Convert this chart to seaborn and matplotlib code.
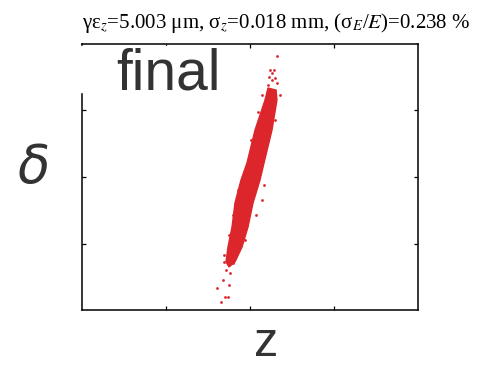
import numpy as np
import pandas as pd
import matplotlib
matplotlib.use('Agg')
import matplotlib.pyplot as plt
import matplotlib.patches as mpatches
import seaborn as sns

# ---------- dados (z, delta em unidades arbitrárias) ----------
# contorno do núcleo denso da distribuição de partículas
core_z     = [0.214, 0.179, 0.060, -0.036, -0.107, -0.179, -0.214, -0.262, -0.286, -0.250,
              -0.179, -0.095, -0.024, 0.036, 0.119, 0.167, 0.262, 0.321, 0.310]
core_delta = [1.338, 1.158, 0.707, 0.211, -0.045, -0.391, -0.752, -1.053, -1.278, -1.353,
              -1.278, -1.053, -0.752, -0.391, -0.045, 0.211, 0.707, 1.158, 1.308]

# partículas isoladas (caudas e bordas difusas)
tail_z     = [0.321, 0.262, 0.226, 0.286, 0.321, 0.214, 0.262, 0.298, 0.238,
              0.143, 0.095, 0.012, -0.071, -0.143, -0.202, -0.250, -0.310,
              0.167, 0.357, 0.298, 0.071, -0.060, 0.143,
              -0.393, -0.345, -0.298, -0.262, -0.321, -0.286, -0.238, -0.202, -0.310, -0.250]
tail_delta = [1.820, 1.564, 1.504, 1.609, 1.414, 1.383, 1.459, 1.489, 1.609,
              1.233, 0.977, 0.556, 0.075, -0.195, -0.571, -0.872, -1.173,
              -0.120, 1.233, 0.857, -0.571, -0.947, -0.346,
              -1.669, -1.880, -1.805, -1.805, -1.549, -1.398, -1.444, -1.293, -1.278, -1.624]

ticks = [-1, 0, 1]
titulo = 'γε$_z$=5.003 μm, σ$_z$=0.018 mm, (σ$_E$/$E$)=0.238 %'

red = '#dc262c'

sns.set_style('white')
plt.rcParams['mathtext.fontset'] = 'stix'
plt.rcParams['font.family'] = ['Liberation Sans', 'DejaVu Sans']

W, H = 487, 366
fig = plt.figure(figsize=(W / 100, H / 100), dpi=100)
ax = fig.add_axes([82 / W, (H - 310) / H, 336 / W, 266 / H])

ax.fill(core_z, core_delta, color=red, lw=1.0, ec=red, zorder=2)
df_tail = pd.DataFrame({'z': tail_z, 'delta': tail_delta})
sns.scatterplot(data=df_tail, x='z', y='delta', ax=ax, color=red, s=4,
                linewidth=0, zorder=3, legend=False)

ax.set_xlim(-2, 2)
ax.set_ylim(-2, 2)
ax.set_xticks(ticks)
ax.set_yticks(ticks)
ax.set_xticklabels([])
ax.set_yticklabels([])
ax.set_xlabel('')
ax.set_ylabel('')
ax.tick_params(direction='in', length=3, width=0.9, top=True, right=True,
               bottom=True, left=True, color='black')
for sp in ax.spines.values():
    sp.set_color('black')
    sp.set_linewidth(1.1)

# título no estilo do artigo (serifado)
fig.text(82 / W, 1 - 28 / H, titulo, family='Liberation Serif', fontsize=15,
         ha='left', va='baseline', color='black')

# caixa branca por trás do rótulo "final"
fig.patches.append(mpatches.Rectangle((72 / W, 1 - 92 / H), 155 / W, 46 / H,
                                      transform=fig.transFigure, color='white',
                                      zorder=5))
fig.text(116 / W, 1 - 90 / H, 'final', fontsize=41, color='#333333',
         ha='left', va='baseline', zorder=6)

fig.text(33 / W, 1 - 169 / H, r'$\delta$', fontsize=38, color='#333333',
         ha='center', va='center', math_fontfamily='dejavusans')
fig.text(266 / W, 1 - 356 / H, 'z', fontsize=35, color='#333333',
         ha='center', va='baseline')

fig.savefig('out.png', dpi=100)
